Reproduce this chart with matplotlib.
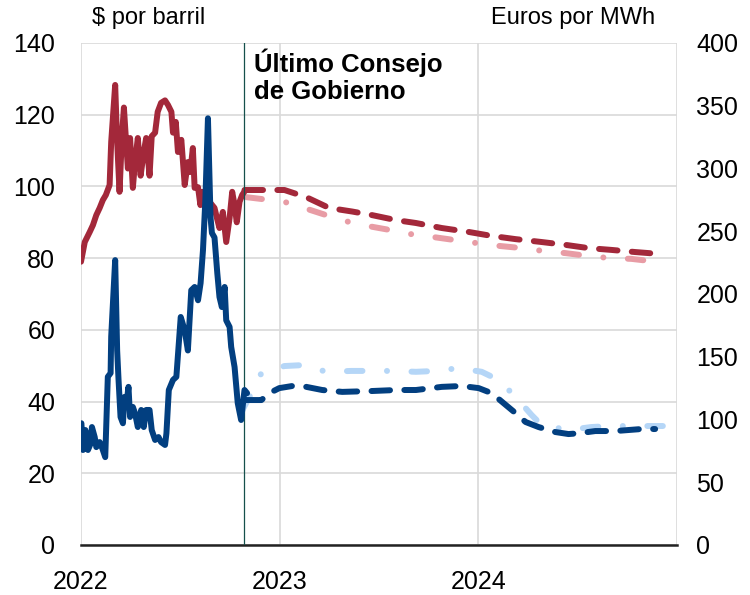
import matplotlib
matplotlib.use("Agg")
import matplotlib.pyplot as plt

# Brent (dólares por barril), datos diarios aproximados, eje izquierdo
brent_t = [2022.000, 2022.019, 2022.044, 2022.060, 2022.077, 2022.094, 2022.110, 2022.125,
           2022.144, 2022.152, 2022.172, 2022.182, 2022.194, 2022.206, 2022.216, 2022.227,
           2022.236, 2022.247, 2022.261, 2022.272, 2022.286, 2022.300, 2022.316, 2022.328,
           2022.345, 2022.356, 2022.373, 2022.386, 2022.403, 2022.423, 2022.438, 2022.455,
           2022.463, 2022.477, 2022.488, 2022.505, 2022.522, 2022.538, 2022.550, 2022.563,
           2022.572, 2022.589, 2022.601, 2022.614, 2022.631, 2022.647, 2022.672, 2022.684,
           2022.697, 2022.714, 2022.731, 2022.748, 2022.761, 2022.773, 2022.784, 2022.798,
           2022.811, 2022.828]
brent_v = [79, 84.5, 87.3, 89.2, 92, 94, 96.2, 97.6,
           100.4, 112.4, 128.3, 112.4, 98.5, 114, 122, 112.4,
           105, 113.5, 99.6, 106.8, 113.5, 103, 109.6, 113.5,
           103, 114, 115, 120.8, 123.3, 124, 122.7, 120.8,
           115, 118, 109.6, 113, 100.4, 106.8, 104, 110.7,
           99.6, 99.8, 94.8, 98.5, 94, 95.7, 94, 91.2,
           88.4, 92.9, 84.5, 91.2, 98.5, 94.8, 90, 95.7,
           97.6, 99]

# Futuros del Brent: actuales y del Consejo anterior
fut_brent_t = [2022.823, 2023.024, 2023.134, 2023.249, 2023.365, 2023.465, 2023.586, 2023.686,
               2023.816, 2023.952, 2024.067, 2024.188, 2024.318, 2024.439, 2024.554, 2024.669,
               2024.790, 2024.905]
fut_brent_v = [99, 99, 97, 94, 93, 92, 90.6, 89.8,
               88.4, 87.3, 86.2, 85.3, 84.5, 83.7, 82.8, 82.3,
               81.7, 81.2]
prev_brent_t = [2022.833, 2022.908, 2023.024, 2023.139, 2023.234, 2023.325, 2023.440, 2023.550,
                2023.661, 2023.771, 2023.887, 2023.992, 2024.107, 2024.218, 2024.328, 2024.439,
                2024.554, 2024.664, 2024.770, 2024.895]
prev_brent_v = [97, 96.5, 95.7, 93.7, 92, 90.4, 89, 87.9,
                86.7, 85.9, 85, 84.2, 83.4, 82.8, 82, 81.4,
                80.6, 80, 79.8, 79]

# Gas TTF (euros por MWh), eje derecho
gas_t = [2022.002, 2022.010, 2022.022, 2022.035, 2022.049, 2022.055, 2022.069, 2022.077,
         2022.094, 2022.105, 2022.122, 2022.135, 2022.149, 2022.152, 2022.172, 2022.182,
         2022.189, 2022.199, 2022.211, 2022.219, 2022.227, 2022.239, 2022.247, 2022.261,
         2022.272, 2022.286, 2022.303, 2022.316, 2022.328, 2022.345, 2022.356, 2022.373,
         2022.390, 2022.403, 2022.423, 2022.430, 2022.442, 2022.463, 2022.480, 2022.502,
         2022.522, 2022.538, 2022.555, 2022.572, 2022.589, 2022.602, 2022.614, 2022.626,
         2022.639, 2022.652, 2022.659, 2022.672, 2022.686, 2022.697, 2022.709, 2022.723,
         2022.731, 2022.748, 2022.756, 2022.773, 2022.789, 2022.806, 2022.823, 2022.836]
gas_v = [97, 75.7, 91.6, 75.7, 81, 94, 86, 78,
         82, 78, 70, 134, 137, 166, 227, 155,
         131.5, 102, 97, 118, 110, 126, 102, 110,
         105, 94, 107.6, 94, 107.6, 107.6, 91.6, 83.7,
         86, 82, 79.7, 89, 123.5, 131.5, 134, 181.7,
         171, 155, 203, 205.6, 195, 208.7, 235, 275,
         340, 261, 248.6, 245, 216.7, 197.6, 189.6, 205.6,
         179, 173.7, 157.8, 141.8, 113, 99.6, 123.5, 121]

# Futuros del gas: actuales y del Consejo anterior
fut_gas_t = [2022.823, 2022.908, 2022.948, 2022.998, 2023.064, 2023.134, 2023.214, 2023.315,
             2023.465, 2023.586, 2023.686, 2023.816, 2023.917, 2024.002, 2024.067, 2024.138,
             2024.188, 2024.238, 2024.303, 2024.388, 2024.454, 2024.504, 2024.589, 2024.689,
             2024.820, 2024.890]
fut_gas_v = [115.5, 115.5, 121, 125, 126.7, 126, 123.5, 122,
             122.7, 123.5, 123.5, 126, 126.7, 125, 121, 111.6,
             105, 98, 94, 90, 88.4, 89, 90.8, 90.8,
             92.4, 92.4]
prev_gas_t = [2022.813, 2022.858, 2022.908, 2023.024, 2023.124, 2023.234, 2023.360, 2023.450,
              2023.565, 2023.686, 2023.786, 2023.902, 2024.017, 2024.102, 2024.188, 2024.268,
              2024.318, 2024.454, 2024.569, 2024.669, 2024.790, 2024.905, 2024.990]
prev_gas_v = [107.6, 121, 137, 142.6, 143.4, 138, 138.7, 138.7,
              138.7, 138, 138.7, 141, 138, 131.5, 118, 103.6,
              95.6, 91.6, 94, 94.8, 94.8, 94.8, 94.8]

consejo_t = 2022.818
years = [2022, 2023, 2024, 2025]
year_labels = ['2022', '2023', '2024', '']

RED = '#A3283A'
PINK = '#E89CA5'
BLUE = '#023F80'
LBLUE = '#B5D6F7'

plt.rcParams['font.family'] = ['Liberation Sans', 'DejaVu Sans']

fig = plt.figure(figsize=(7.5, 5.95), dpi=100)
ax = fig.add_axes([81 / 750, 50 / 595, 596 / 750, 502 / 595])
ax2 = ax.twinx()

lw = 4.3
dash = (0, (3.1, 2.4))
dashdot = (0, (2.6, 4.1, 0.01, 4.1))

ax.plot(brent_t, brent_v, color=RED, lw=lw, solid_joinstyle='round',
        solid_capstyle='round', zorder=3)
ax.plot(prev_brent_t, prev_brent_v, color=PINK, lw=lw, ls=dashdot,
        dash_capstyle='round', zorder=2)
ax.plot(fut_brent_t, fut_brent_v, color=RED, lw=lw, ls=dash,
        dash_capstyle='round', zorder=3)

ax2.plot(gas_t, gas_v, color=BLUE, lw=lw, solid_joinstyle='round',
         solid_capstyle='round', zorder=3)
ax2.plot(prev_gas_t, prev_gas_v, color=LBLUE, lw=lw, ls=dashdot,
         dash_capstyle='round', zorder=2)
ax2.plot(fut_gas_t, fut_gas_v, color=BLUE, lw=lw, ls=dash,
         dash_capstyle='round', zorder=3)

ax.axvline(consejo_t, color='#15504C', lw=0.9, zorder=4)

ax.set_xlim(2022, 2025)
ax.set_ylim(0, 140)
ax2.set_ylim(0, 400)
ax.set_xticks(years)
ax.set_xticklabels(year_labels)
ax.set_yticks(range(0, 141, 20))
ax2.set_yticks(range(0, 401, 50))
ax.grid(True, color='#D9D9D9', lw=1.2, zorder=0)
ax.set_axisbelow(True)

for a in (ax, ax2):
    for s in a.spines.values():
        s.set_visible(False)
ax.spines['bottom'].set_visible(True)
ax.spines['bottom'].set_color('#222222')
ax.spines['bottom'].set_linewidth(1.8)

ax.tick_params(axis='y', length=0, pad=18.5, labelsize=18)
ax.tick_params(axis='x', length=0, pad=18, labelsize=18)
ax2.tick_params(axis='y', length=0, pad=14, labelsize=18)

ax.text(2022.873, 138.5, 'Último Consejo\nde Gobierno', fontsize=18.5,
        fontweight='bold', va='top', ha='left', linespacing=1.15, zorder=5)

fig.text(92 / 750, 1 - 18 / 595, '$ por barril', fontsize=17, va='center', ha='left')
fig.text(655 / 750, 1 - 18 / 595, 'Euros por MWh', fontsize=17, va='center', ha='right')

fig.savefig('out.png', dpi=100)
